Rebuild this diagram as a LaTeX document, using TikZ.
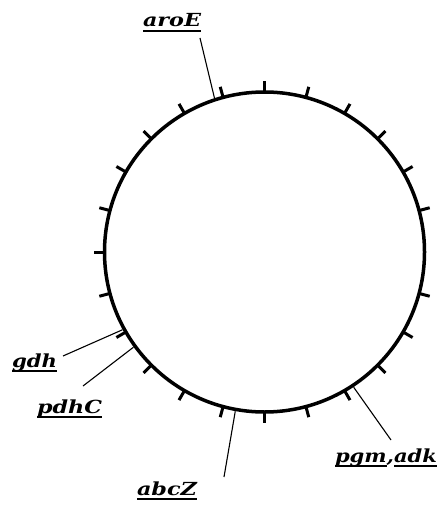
\documentclass[tikz,border=0pt]{standalone}
\usepackage{fontspec}
\newfontfamily\labelfont{DejaVu Serif}
\usetikzlibrary{calc}
\newsavebox{\genebox}
\newcommand{\genelabel}[1]{\sbox{\genebox}{#1}\rlap{\rule[-4.6pt]{\wd\genebox}{1.2pt}}\usebox{\genebox}}
\newcommand{\fitlabel}[2]{\resizebox{#1}{\height}{#2}}
\tikzset{
  genome/.style={circle, draw=black, line width=3.5pt, minimum size=320pt, inner sep=0pt, outer sep=0pt},
  tickmark/.style={line width=3pt},
  gene/.style={inner sep=0pt, outer sep=0pt, anchor=base west, font=\labelfont\fontsize{18}{21}\selectfont\bfseries\itshape},
  leader/.style={line width=1.1pt}
}
\begin{document}
\begin{tikzpicture}[x=1pt,y=1pt]
\useasboundingbox (0,0) rectangle (438,-510);
\node[genome] (c) at (264.5,-252) {};
\foreach \a in {15,30,...,345} {
  \draw[tickmark] ($(c.center)+(\a:160)$) -- ($(c.center)+(\a:171)$);
}
\node[gene] (aroE) at (143,-27) {\fitlabel{58pt}{\genelabel{aroE}}};
\node[gene] (gdh) at (12,-367) {\fitlabel{45pt}{\genelabel{gdh}}};
\node[gene] (pdhC) at (37,-413) {\fitlabel{65pt}{\genelabel{pdhC}}};
\node[gene] (abcZ) at (137,-495) {\fitlabel{60pt}{\genelabel{abcZ}}};
\node[gene] (pgm) at (335,-462) {\fitlabel{102pt}{\genelabel{pgm},\genelabel{adk}}};
\coordinate (aroEend) at (200,-38);
\coordinate (gdhend) at (63,-356);
\coordinate (pdhCend) at (83,-386);
\coordinate (abcZend) at (224,-477);
\coordinate (pgmend) at (391,-440);
\draw[leader] (aroEend) -- ($(c.center)+(108:162)$);
\draw[leader] (gdhend) -- ($(c.center)+(208.7:162)$);
\draw[leader] (pdhCend) -- ($(c.center)+(216:162)$);
\draw[leader] (abcZend) -- ($(c.center)+(259.6:162)$);
\draw[leader] (pgmend) -- ($(c.center)+(303.4:162)$);
\end{tikzpicture}
\end{document}
